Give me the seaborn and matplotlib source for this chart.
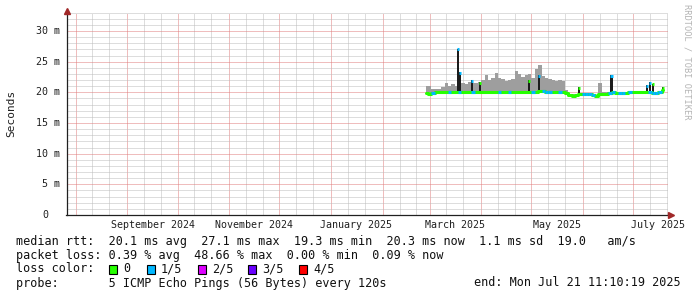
import numpy as np
import pandas as pd
import matplotlib
matplotlib.use("Agg")
import matplotlib.pyplot as plt
import matplotlib.dates as mdates
from matplotlib.ticker import MultipleLocator, NullFormatter
from matplotlib.patches import Rectangle
import seaborn as sns

# ---------------- data ----------------
end_time = pd.Timestamp("2025-07-21 11:10:19")
span_days = 360
data_start = pd.Timestamp("2025-02-27")   # first bin, bins are 2 days apart

median_ms = [19.9, 19.8, 19.9, 20.0, 20.0, 20.0, 20.0, 20.0, 20.0, 20.0,
             20.1, 20.0, 20.0, 20.0, 20.1, 20.0, 20.0, 20.0, 20.0, 20.0,
             20.1, 20.0, 20.1, 20.1, 20.0, 20.1, 20.1, 20.1, 20.1, 20.1,
             20.1, 20.1, 20.0, 20.1, 20.2, 20.2, 20.1, 20.1, 20.1, 20.1,
             20.1, 20.0, 19.9, 19.5, 19.45, 19.6, 19.7, 19.75, 19.75, 19.7,
             19.6, 19.35, 19.75, 19.8, 19.8, 19.85, 20.0, 19.95, 19.95, 19.9,
             19.95, 20.0, 20.0, 20.0, 20.05, 20.05, 20.0, 20.0, 19.95, 19.95,
             20.0, 20.3]

smoke_top_ms = [21.0, 21.0, 20.6, 20.5, 20.6, 20.8, 21.6, 21.0, 21.4, 21.0,
                21.1, 21.5, 21.3, 21.7, 21.6, 21.5, 21.7, 22.0, 22.8, 22.0,
                22.3, 23.1, 22.3, 22.1, 21.9, 22.0, 22.2, 23.5, 23.0, 22.5,
                22.8, 23.0, 22.4, 23.8, 24.5, 22.6, 22.3, 22.2, 22.0, 21.8,
                22.0, 21.9, 20.3, 19.8, 19.7, 19.8, 19.9, 19.9, 19.9, 19.9,
                19.8, 19.6, 21.6, 20.0, 20.0, 20.0, 20.2, 20.1, 20.1, 20.1,
                20.1, 20.2, 20.2, 20.2, 20.2, 20.2, 20.2, 20.2, 20.1, 20.1,
                20.2, 20.5]

loss_class = [0, 0, 1, 0, 0, 0, 0, 1, 0, 0,
              1, 0, 0, 0, 1, 0, 0, 0, 0, 0,
              0, 0, 1, 0, 0, 1, 0, 0, 0, 0,
              0, 0, 1, 0, 0, 1, 1, 1, 0, 0,
              1, 0, 0, 0, 0, 0, 0, 1, 1, 1,
              1, 0, 0, 0, 0, 1, 1, 0, 1, 1,
              0, 1, 0, 0, 0, 0, 0, 1, 1, 1,
              1, 0]

spike_day = [19.1, 20.1, 27.6, 32.1, 61.4, 67.4, 91.3, 110.9, 132.0, 133.8, 135.6, 141.6]
spike_top_ms = [27.1, 23.3, 22.0, 21.7, 22.0, 22.8, 20.8, 22.8, 21.2, 21.7, 21.4, 20.8]
spike_base_ms = [20.0, 20.0, 20.0, 20.0, 20.1, 20.1, 19.7, 19.9, 20.0, 20.0, 20.0, 20.0]
spike_loss = [1, 1, 1, 0, 0, 1, 0, 1, 1, 1, 0, 0]

y_ticks_ms = [0, 5, 10, 15, 20, 25, 30]
y_tick_labels = ["0", "5 m", "10 m", "15 m", "20 m", "25 m", "30 m"]
month_labels = ["September 2024", "November 2024", "January 2025",
                "March 2025", "May 2025", "July 2025"]
month_label_starts = ["2024-09-01", "2024-11-01", "2025-01-01",
                      "2025-03-01", "2025-05-01", "2025-07-01"]

loss_names = ["0", "1/5", "2/5", "3/5", "4/5"]
loss_colors = ["#26ff00", "#00b8ff", "#dd00ff", "#6a00ff", "#ff0000"]

legend_rows = [
    "median rtt:  20.1 ms avg  27.1 ms max  19.3 ms min  20.3 ms now  1.1 ms sd  19.0   am/s",
    "packet loss: 0.39 % avg  48.66 % max  0.00 % min  0.09 % now",
]
probe_text = "probe:       5 ICMP Echo Pings (56 Bytes) every 120s"
end_text = "end: Mon Jul 21 11:10:19 2025"

# ---------------- figure ----------------
sns.set_style("white")
plt.rcParams["font.family"] = ["DejaVu Sans Mono"]
FS = 8.45      # legend text
AFS = 7.2      # axis labels
W, H = 697, 297
fig = plt.figure(figsize=(W / 100, H / 100), dpi=100)
fig.patch.set_facecolor("white")
x0, x1, ytop, ybot = 66.5, 667.5, 12.6, 215.0
ax = fig.add_axes([x0 / W, 1 - ybot / H, (x1 - x0) / W, (ybot - ytop) / H])
ax.set_facecolor("white")

days = np.arange(len(median_ms)) * 2
df = pd.DataFrame({
    "date": data_start + pd.to_timedelta(days, unit="D"),
    "median": median_ms,
    "top": smoke_top_ms,
    "loss": loss_class,
})

# smoke
ax.fill_between(df["date"], df["median"] - 0.05, df["top"], step="mid",
                color="#9e9e9e", lw=0, zorder=2)

# dark spikes
sp_dates = data_start + pd.to_timedelta(np.array(spike_day), unit="D")
ax.bar(sp_dates, np.array(spike_top_ms) - np.array(spike_base_ms),
       bottom=spike_base_ms, width=1.25, color="#1c1c1c", zorder=3, lw=0)

# median line (green = 0 loss)
sns.lineplot(data=df, x="date", y="median", color=loss_colors[0], lw=2.2,
             drawstyle="steps-mid", ax=ax, zorder=4)
# segments with loss
half = pd.Timedelta(days=1)
for d, m, l in zip(df["date"], df["median"], df["loss"]):
    if l > 0:
        ax.hlines(m, d - half, d + half, color=loss_colors[l], lw=2.2, zorder=5)
for d, t, l in zip(sp_dates, spike_top_ms, spike_loss):
    ax.hlines(t - 0.1, d - pd.Timedelta(hours=15), d + pd.Timedelta(hours=15),
              color=loss_colors[l], lw=2.2, zorder=5)

# axes limits
ax.set_xlim(end_time - pd.Timedelta(days=span_days), end_time)
ax.set_ylim(0, 33)

# grid
ax.xaxis.set_major_locator(mdates.MonthLocator(bymonthday=1))
ax.xaxis.set_minor_locator(mdates.DayLocator(bymonthday=[11, 21]))
ax.xaxis.set_major_formatter(NullFormatter())
ax.yaxis.set_major_locator(MultipleLocator(5))
ax.yaxis.set_minor_locator(MultipleLocator(1))
ax.yaxis.set_major_formatter(NullFormatter())
ax.grid(which="minor", color="#bcbcbc", lw=0.72, ls=(0, (1, 1)), zorder=0)
ax.grid(which="major", color="#e07c7c", lw=0.72, ls=(0, (1, 1)), zorder=1)
ax.set_axisbelow(True)
ax.tick_params(which="major", direction="out", length=2.2, width=0.72, color="#404040")
ax.tick_params(which="minor", direction="out", length=1.5, width=0.72, color="#404040")
ax.set_xlabel("")
ax.set_ylabel("")

for s in ["top", "right"]:
    ax.spines[s].set_visible(False)
for s in ["left", "bottom"]:
    ax.spines[s].set_color("#202020")
    ax.spines[s].set_linewidth(0.9)

# arrows
ax.plot([0], [1.01], marker="^", ms=4, color="#a02828", transform=ax.transAxes,
        clip_on=False, zorder=6)
ax.plot([1.005], [0], marker=">", ms=4, color="#a02828", transform=ax.transAxes,
        clip_on=False, zorder=6)

# y tick labels
for v, lab in zip(y_ticks_ms, y_tick_labels):
    off = -18.5 if v == 0 else -6.5
    ax.annotate(lab, xy=(0, v), xycoords=("axes fraction", "data"),
                xytext=(off * 0.72, 0), textcoords="offset points",
                ha="right", va="center", fontsize=AFS, color="#202020")

# x month labels, centred half a month after the month start
for lab, ms in zip(month_labels, month_label_starts):
    d = pd.Timestamp(ms) + pd.Timedelta(days=15)
    ax.annotate(lab, xy=(d, 0), xycoords=("data", "axes fraction"),
                xytext=(0, -9.5 * 0.72), textcoords="offset points",
                ha="center", va="center", fontsize=AFS, color="#202020")

fig.text(10.8 / W, 1 - 113.5 / H, "Seconds", rotation=90, ha="center", va="center",
         fontsize=8.0, color="#202020")
fig.text(687 / W, 1 - 4 / H, "RRDTOOL / TOBI OETIKER", rotation=-90, ha="center",
         va="top", fontsize=6.2, color="#b4b4b4")

# legend rows
def px(x, y):
    return x / W, 1 - y / H

for i, row in enumerate(legend_rows):
    fig.text(*px(16, 241 + 14 * i), row, ha="left", va="center", fontsize=FS,
             color="#101010")
fig.text(*px(16, 269), "loss color:", ha="left", va="center", fontsize=FS, color="#101010")
box_x = [109, 147, 198, 248, 299]
for bx, name, col in zip(box_x, loss_names, loss_colors):
    fig.patches.append(Rectangle(px(bx, 273.5), 8 / W, 9 / H, transform=fig.transFigure,
                                 facecolor=col, edgecolor="black", lw=0.8))
    fig.text(*px(bx + 14, 269), name, ha="left", va="center", fontsize=FS, color="#101010")
fig.text(*px(16, 283), probe_text, ha="left", va="center", fontsize=FS, color="#101010")
fig.text(*px(681, 283), end_text, ha="right", va="center", fontsize=FS, color="#101010")

fig.savefig("out.png", dpi=100, facecolor="white")
